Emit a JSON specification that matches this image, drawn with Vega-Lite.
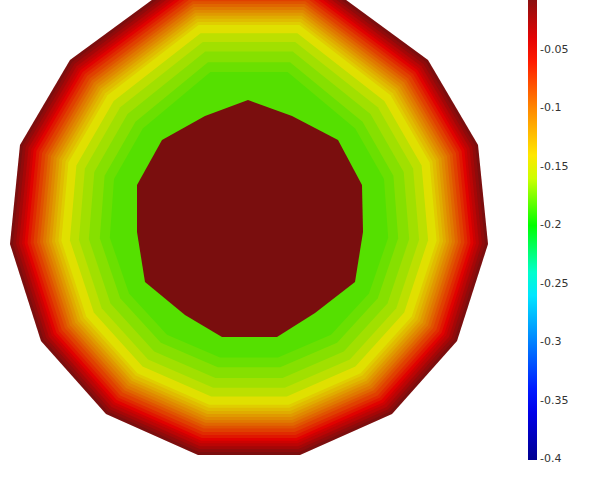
{
"$schema": "https://vega.github.io/schema/vega-lite/v6.json",
"padding": 0,
"width": 500,
"height": 481,
"background": "white",
"config": {"view": {"stroke": null}},
"datasets": {
"rings": [
{"r":0,"v":-0.008,"i":0,"x":488,"y":244},{"r":0,"v":-0.008,"i":1,"x":457,"y":341},{"r":0,"v":-0.008,"i":2,"x":392,"y":414},{"r":0,"v":-0.008,"i":3,"x":300,"y":455},{"r":0,"v":-0.008,"i":4,"x":198,"y":455},{"r":0,"v":-0.008,"i":5,"x":106,"y":414},{"r":0,"v":-0.008,"i":6,"x":41,"y":341},{"r":0,"v":-0.008,"i":7,"x":10,"y":244},{"r":0,"v":-0.008,"i":8,"x":20,"y":145},{"r":0,"v":-0.008,"i":9,"x":70,"y":60},{"r":0,"v":-0.008,"i":10,"x":186,"y":-25},{"r":0,"v":-0.008,"i":11,"x":312,"y":-25},{"r":0,"v":-0.008,"i":12,"x":428,"y":60},{"r":0,"v":-0.008,"i":13,"x":478,"y":145},
{"r":1,"v":-0.016,"i":0,"x":485,"y":243.8},{"r":1,"v":-0.016,"i":1,"x":454.4,"y":339.6},{"r":1,"v":-0.016,"i":2,"x":390.2,"y":411.6},{"r":1,"v":-0.016,"i":3,"x":299.3,"y":452.1},{"r":1,"v":-0.016,"i":4,"x":198.7,"y":452.1},{"r":1,"v":-0.016,"i":5,"x":107.8,"y":411.6},{"r":1,"v":-0.016,"i":6,"x":43.6,"y":339.6},{"r":1,"v":-0.016,"i":7,"x":13,"y":243.8},{"r":1,"v":-0.016,"i":8,"x":22.8,"y":146},{"r":1,"v":-0.016,"i":9,"x":72.2,"y":62.1},{"r":1,"v":-0.016,"i":10,"x":186.7,"y":-22.1},{"r":1,"v":-0.016,"i":11,"x":311.3,"y":-22.1},{"r":1,"v":-0.016,"i":12,"x":425.8,"y":62.1},{"r":1,"v":-0.016,"i":13,"x":475.2,"y":146},
{"r":2,"v":-0.025,"i":0,"x":482,"y":243.6},{"r":2,"v":-0.025,"i":1,"x":451.7,"y":338.1},{"r":2,"v":-0.025,"i":2,"x":388.3,"y":409.2},{"r":2,"v":-0.025,"i":3,"x":298.7,"y":449.1},{"r":2,"v":-0.025,"i":4,"x":199.3,"y":449.1},{"r":2,"v":-0.025,"i":5,"x":109.7,"y":409.2},{"r":2,"v":-0.025,"i":6,"x":46.3,"y":338.1},{"r":2,"v":-0.025,"i":7,"x":16,"y":243.6},{"r":2,"v":-0.025,"i":8,"x":25.6,"y":147},{"r":2,"v":-0.025,"i":9,"x":74.4,"y":64.1},{"r":2,"v":-0.025,"i":10,"x":187.5,"y":-19.2},{"r":2,"v":-0.025,"i":11,"x":310.5,"y":-19.2},{"r":2,"v":-0.025,"i":12,"x":423.6,"y":64.1},{"r":2,"v":-0.025,"i":13,"x":472.4,"y":147},
{"r":3,"v":-0.034,"i":0,"x":479,"y":243.4},{"r":3,"v":-0.034,"i":1,"x":449.1,"y":336.7},{"r":3,"v":-0.034,"i":2,"x":386.5,"y":406.9},{"r":3,"v":-0.034,"i":3,"x":298,"y":446.2},{"r":3,"v":-0.034,"i":4,"x":200,"y":446.2},{"r":3,"v":-0.034,"i":5,"x":111.5,"y":406.9},{"r":3,"v":-0.034,"i":6,"x":48.9,"y":336.7},{"r":3,"v":-0.034,"i":7,"x":19,"y":243.4},{"r":3,"v":-0.034,"i":8,"x":28.5,"y":148.1},{"r":3,"v":-0.034,"i":9,"x":76.6,"y":66.2},{"r":3,"v":-0.034,"i":10,"x":188.2,"y":-16.3},{"r":3,"v":-0.034,"i":11,"x":309.8,"y":-16.3},{"r":3,"v":-0.034,"i":12,"x":421.4,"y":66.2},{"r":3,"v":-0.034,"i":13,"x":469.5,"y":148.1},
{"r":4,"v":-0.042,"i":0,"x":476,"y":243.2},{"r":4,"v":-0.042,"i":1,"x":446.4,"y":335.3},{"r":4,"v":-0.042,"i":2,"x":384.7,"y":404.5},{"r":4,"v":-0.042,"i":3,"x":297.4,"y":443.3},{"r":4,"v":-0.042,"i":4,"x":200.6,"y":443.3},{"r":4,"v":-0.042,"i":5,"x":113.3,"y":404.5},{"r":4,"v":-0.042,"i":6,"x":51.6,"y":335.3},{"r":4,"v":-0.042,"i":7,"x":22,"y":243.2},{"r":4,"v":-0.042,"i":8,"x":31.3,"y":149.1},{"r":4,"v":-0.042,"i":9,"x":78.7,"y":68.2},{"r":4,"v":-0.042,"i":10,"x":188.9,"y":-13.4},{"r":4,"v":-0.042,"i":11,"x":309.1,"y":-13.4},{"r":4,"v":-0.042,"i":12,"x":419.3,"y":68.2},{"r":4,"v":-0.042,"i":13,"x":466.7,"y":149.1},
{"r":5,"v":-0.051,"i":0,"x":473.5,"y":243.1},{"r":5,"v":-0.051,"i":1,"x":444.2,"y":334.1},{"r":5,"v":-0.051,"i":2,"x":383.2,"y":402.5},{"r":5,"v":-0.051,"i":3,"x":296.8,"y":440.8},{"r":5,"v":-0.051,"i":4,"x":201.2,"y":440.8},{"r":5,"v":-0.051,"i":5,"x":114.8,"y":402.5},{"r":5,"v":-0.051,"i":6,"x":53.8,"y":334.1},{"r":5,"v":-0.051,"i":7,"x":24.5,"y":243.1},{"r":5,"v":-0.051,"i":8,"x":33.6,"y":149.9},{"r":5,"v":-0.051,"i":9,"x":80.6,"y":69.9},{"r":5,"v":-0.051,"i":10,"x":189.5,"y":-10.9},{"r":5,"v":-0.051,"i":11,"x":308.5,"y":-10.9},{"r":5,"v":-0.051,"i":12,"x":417.4,"y":69.9},{"r":5,"v":-0.051,"i":13,"x":464.4,"y":149.9},
{"r":6,"v":-0.06,"i":0,"x":470.5,"y":242.9},{"r":6,"v":-0.06,"i":1,"x":441.6,"y":332.7},{"r":6,"v":-0.06,"i":2,"x":381.3,"y":400.1},{"r":6,"v":-0.06,"i":3,"x":296.2,"y":437.9},{"r":6,"v":-0.06,"i":4,"x":201.8,"y":437.9},{"r":6,"v":-0.06,"i":5,"x":116.7,"y":400.1},{"r":6,"v":-0.06,"i":6,"x":56.4,"y":332.7},{"r":6,"v":-0.06,"i":7,"x":27.5,"y":242.9},{"r":6,"v":-0.06,"i":8,"x":36.4,"y":151},{"r":6,"v":-0.06,"i":9,"x":82.7,"y":72},{"r":6,"v":-0.06,"i":10,"x":190.3,"y":-8},{"r":6,"v":-0.06,"i":11,"x":307.7,"y":-8},{"r":6,"v":-0.06,"i":12,"x":415.3,"y":72},{"r":6,"v":-0.06,"i":13,"x":461.6,"y":151},
{"r":7,"v":-0.068,"i":0,"x":467.5,"y":242.7},{"r":7,"v":-0.068,"i":1,"x":439,"y":331.2},{"r":7,"v":-0.068,"i":2,"x":379.5,"y":397.8},{"r":7,"v":-0.068,"i":3,"x":295.5,"y":435},{"r":7,"v":-0.068,"i":4,"x":202.5,"y":435},{"r":7,"v":-0.068,"i":5,"x":118.5,"y":397.8},{"r":7,"v":-0.068,"i":6,"x":59,"y":331.2},{"r":7,"v":-0.068,"i":7,"x":30.5,"y":242.7},{"r":7,"v":-0.068,"i":8,"x":39.3,"y":152},{"r":7,"v":-0.068,"i":9,"x":84.9,"y":74},{"r":7,"v":-0.068,"i":10,"x":191,"y":-5.1},{"r":7,"v":-0.068,"i":11,"x":307,"y":-5.1},{"r":7,"v":-0.068,"i":12,"x":413.1,"y":74},{"r":7,"v":-0.068,"i":13,"x":458.7,"y":152},
{"r":8,"v":-0.077,"i":0,"x":464.5,"y":242.5},{"r":8,"v":-0.077,"i":1,"x":436.3,"y":329.8},{"r":8,"v":-0.077,"i":2,"x":377.7,"y":395.4},{"r":8,"v":-0.077,"i":3,"x":294.8,"y":432.1},{"r":8,"v":-0.077,"i":4,"x":203.2,"y":432.1},{"r":8,"v":-0.077,"i":5,"x":120.3,"y":395.4},{"r":8,"v":-0.077,"i":6,"x":61.7,"y":329.8},{"r":8,"v":-0.077,"i":7,"x":33.5,"y":242.5},{"r":8,"v":-0.077,"i":8,"x":42.1,"y":153},{"r":8,"v":-0.077,"i":9,"x":87.1,"y":76.1},{"r":8,"v":-0.077,"i":10,"x":191.7,"y":-2.2},{"r":8,"v":-0.077,"i":11,"x":306.3,"y":-2.2},{"r":8,"v":-0.077,"i":12,"x":410.9,"y":76.1},{"r":8,"v":-0.077,"i":13,"x":455.9,"y":153},
{"r":9,"v":-0.085,"i":0,"x":461,"y":242.3},{"r":9,"v":-0.085,"i":1,"x":433.2,"y":328.1},{"r":9,"v":-0.085,"i":2,"x":375.5,"y":392.6},{"r":9,"v":-0.085,"i":3,"x":294.1,"y":428.6},{"r":9,"v":-0.085,"i":4,"x":203.9,"y":428.6},{"r":9,"v":-0.085,"i":5,"x":122.5,"y":392.6},{"r":9,"v":-0.085,"i":6,"x":64.8,"y":328.1},{"r":9,"v":-0.085,"i":7,"x":37,"y":242.3},{"r":9,"v":-0.085,"i":8,"x":45.4,"y":154.2},{"r":9,"v":-0.085,"i":9,"x":89.7,"y":78.5},{"r":9,"v":-0.085,"i":10,"x":192.6,"y":1.2},{"r":9,"v":-0.085,"i":11,"x":305.4,"y":1.2},{"r":9,"v":-0.085,"i":12,"x":408.3,"y":78.5},{"r":9,"v":-0.085,"i":13,"x":452.6,"y":154.2},
{"r":10,"v":-0.093,"i":0,"x":458,"y":242.1},{"r":10,"v":-0.093,"i":1,"x":430.6,"y":326.7},{"r":10,"v":-0.093,"i":2,"x":373.7,"y":390.2},{"r":10,"v":-0.093,"i":3,"x":293.4,"y":425.7},{"r":10,"v":-0.093,"i":4,"x":204.6,"y":425.7},{"r":10,"v":-0.093,"i":5,"x":124.3,"y":390.2},{"r":10,"v":-0.093,"i":6,"x":67.4,"y":326.7},{"r":10,"v":-0.093,"i":7,"x":40,"y":242.1},{"r":10,"v":-0.093,"i":8,"x":48.2,"y":155.2},{"r":10,"v":-0.093,"i":9,"x":91.8,"y":80.6},{"r":10,"v":-0.093,"i":10,"x":193.3,"y":4.1},{"r":10,"v":-0.093,"i":11,"x":304.7,"y":4.1},{"r":10,"v":-0.093,"i":12,"x":406.2,"y":80.6},{"r":10,"v":-0.093,"i":13,"x":449.8,"y":155.2},
{"r":11,"v":-0.101,"i":0,"x":455,"y":241.9},{"r":11,"v":-0.101,"i":1,"x":428,"y":325.3},{"r":11,"v":-0.101,"i":2,"x":371.9,"y":387.9},{"r":11,"v":-0.101,"i":3,"x":292.7,"y":422.8},{"r":11,"v":-0.101,"i":4,"x":205.3,"y":422.8},{"r":11,"v":-0.101,"i":5,"x":126.1,"y":387.9},{"r":11,"v":-0.101,"i":6,"x":70,"y":325.3},{"r":11,"v":-0.101,"i":7,"x":43,"y":241.9},{"r":11,"v":-0.101,"i":8,"x":51,"y":156.3},{"r":11,"v":-0.101,"i":9,"x":94,"y":82.6},{"r":11,"v":-0.101,"i":10,"x":194,"y":7},{"r":11,"v":-0.101,"i":11,"x":304,"y":7},{"r":11,"v":-0.101,"i":12,"x":404,"y":82.6},{"r":11,"v":-0.101,"i":13,"x":447,"y":156.3},
{"r":12,"v":-0.109,"i":0,"x":452,"y":241.7},{"r":12,"v":-0.109,"i":1,"x":425.3,"y":323.9},{"r":12,"v":-0.109,"i":2,"x":370,"y":385.5},{"r":12,"v":-0.109,"i":3,"x":292.1,"y":419.9},{"r":12,"v":-0.109,"i":4,"x":205.9,"y":419.9},{"r":12,"v":-0.109,"i":5,"x":128,"y":385.5},{"r":12,"v":-0.109,"i":6,"x":72.7,"y":323.9},{"r":12,"v":-0.109,"i":7,"x":46,"y":241.7},{"r":12,"v":-0.109,"i":8,"x":53.8,"y":157.3},{"r":12,"v":-0.109,"i":9,"x":96.2,"y":84.7},{"r":12,"v":-0.109,"i":10,"x":194.8,"y":9.9},{"r":12,"v":-0.109,"i":11,"x":303.2,"y":9.9},{"r":12,"v":-0.109,"i":12,"x":401.8,"y":84.7},{"r":12,"v":-0.109,"i":13,"x":444.2,"y":157.3},
{"r":13,"v":-0.117,"i":0,"x":449,"y":241.5},{"r":13,"v":-0.117,"i":1,"x":422.7,"y":322.4},{"r":13,"v":-0.117,"i":2,"x":368.2,"y":383.1},{"r":13,"v":-0.117,"i":3,"x":291.4,"y":416.9},{"r":13,"v":-0.117,"i":4,"x":206.6,"y":416.9},{"r":13,"v":-0.117,"i":5,"x":129.8,"y":383.1},{"r":13,"v":-0.117,"i":6,"x":75.3,"y":322.4},{"r":13,"v":-0.117,"i":7,"x":49,"y":241.5},{"r":13,"v":-0.117,"i":8,"x":56.7,"y":158.3},{"r":13,"v":-0.117,"i":9,"x":98.4,"y":86.7},{"r":13,"v":-0.117,"i":10,"x":195.5,"y":12.8},{"r":13,"v":-0.117,"i":11,"x":302.5,"y":12.8},{"r":13,"v":-0.117,"i":12,"x":399.6,"y":86.7},{"r":13,"v":-0.117,"i":13,"x":441.3,"y":158.3},
{"r":14,"v":-0.125,"i":0,"x":446,"y":241.4},{"r":14,"v":-0.125,"i":1,"x":420,"y":321},{"r":14,"v":-0.125,"i":2,"x":366.4,"y":380.7},{"r":14,"v":-0.125,"i":3,"x":290.8,"y":414},{"r":14,"v":-0.125,"i":4,"x":207.2,"y":414},{"r":14,"v":-0.125,"i":5,"x":131.6,"y":380.7},{"r":14,"v":-0.125,"i":6,"x":78,"y":321},{"r":14,"v":-0.125,"i":7,"x":52,"y":241.4},{"r":14,"v":-0.125,"i":8,"x":59.5,"y":159.3},{"r":14,"v":-0.125,"i":9,"x":100.6,"y":88.8},{"r":14,"v":-0.125,"i":10,"x":196.2,"y":15.7},{"r":14,"v":-0.125,"i":11,"x":301.8,"y":15.7},{"r":14,"v":-0.125,"i":12,"x":397.4,"y":88.8},{"r":14,"v":-0.125,"i":13,"x":438.5,"y":159.3},
{"r":15,"v":-0.133,"i":0,"x":443,"y":241.2},{"r":15,"v":-0.133,"i":1,"x":417.4,"y":319.6},{"r":15,"v":-0.133,"i":2,"x":364.6,"y":378.4},{"r":15,"v":-0.133,"i":3,"x":290.1,"y":411.1},{"r":15,"v":-0.133,"i":4,"x":207.9,"y":411.1},{"r":15,"v":-0.133,"i":5,"x":133.4,"y":378.4},{"r":15,"v":-0.133,"i":6,"x":80.6,"y":319.6},{"r":15,"v":-0.133,"i":7,"x":55,"y":241.2},{"r":15,"v":-0.133,"i":8,"x":62.3,"y":160.3},{"r":15,"v":-0.133,"i":9,"x":102.8,"y":90.8},{"r":15,"v":-0.133,"i":10,"x":197,"y":18.7},{"r":15,"v":-0.133,"i":11,"x":301,"y":18.7},{"r":15,"v":-0.133,"i":12,"x":395.2,"y":90.8},{"r":15,"v":-0.133,"i":13,"x":435.7,"y":160.3},
{"r":16,"v":-0.141,"i":0,"x":439.6,"y":240.9},{"r":16,"v":-0.141,"i":1,"x":414.3,"y":317.9},{"r":16,"v":-0.141,"i":2,"x":362.4,"y":375.6},{"r":16,"v":-0.141,"i":3,"x":289.3,"y":407.7},{"r":16,"v":-0.141,"i":4,"x":208.7,"y":407.7},{"r":16,"v":-0.141,"i":5,"x":135.6,"y":375.6},{"r":16,"v":-0.141,"i":6,"x":83.7,"y":317.9},{"r":16,"v":-0.141,"i":7,"x":58.4,"y":240.9},{"r":16,"v":-0.141,"i":8,"x":65.6,"y":161.5},{"r":16,"v":-0.141,"i":9,"x":105.3,"y":93.2},{"r":16,"v":-0.141,"i":10,"x":197.8,"y":22},{"r":16,"v":-0.141,"i":11,"x":300.2,"y":22},{"r":16,"v":-0.141,"i":12,"x":392.7,"y":93.2},{"r":16,"v":-0.141,"i":13,"x":432.4,"y":161.5},
{"r":17,"v":-0.15,"i":0,"x":436.6,"y":240.8},{"r":17,"v":-0.15,"i":1,"x":411.7,"y":316.5},{"r":17,"v":-0.15,"i":2,"x":360.6,"y":373.2},{"r":17,"v":-0.15,"i":3,"x":288.7,"y":404.7},{"r":17,"v":-0.15,"i":4,"x":209.3,"y":404.7},{"r":17,"v":-0.15,"i":5,"x":137.4,"y":373.2},{"r":17,"v":-0.15,"i":6,"x":86.3,"y":316.5},{"r":17,"v":-0.15,"i":7,"x":61.4,"y":240.8},{"r":17,"v":-0.15,"i":8,"x":68.4,"y":162.6},{"r":17,"v":-0.15,"i":9,"x":107.5,"y":95.3},{"r":17,"v":-0.15,"i":10,"x":198.6,"y":25},{"r":17,"v":-0.15,"i":11,"x":299.4,"y":25},{"r":17,"v":-0.15,"i":12,"x":390.5,"y":95.3},{"r":17,"v":-0.15,"i":13,"x":429.6,"y":162.6},
{"r":18,"v":-0.158,"i":0,"x":428.1,"y":240.2},{"r":18,"v":-0.158,"i":1,"x":404.2,"y":312.4},{"r":18,"v":-0.158,"i":2,"x":355.4,"y":366.5},{"r":18,"v":-0.158,"i":3,"x":286.8,"y":396.4},{"r":18,"v":-0.158,"i":4,"x":211.2,"y":396.4},{"r":18,"v":-0.158,"i":5,"x":142.6,"y":366.5},{"r":18,"v":-0.158,"i":6,"x":93.8,"y":312.4},{"r":18,"v":-0.158,"i":7,"x":69.9,"y":240.2},{"r":18,"v":-0.158,"i":8,"x":76.4,"y":165.5},{"r":18,"v":-0.158,"i":9,"x":113.7,"y":101.1},{"r":18,"v":-0.158,"i":10,"x":200.6,"y":33.2},{"r":18,"v":-0.158,"i":11,"x":297.4,"y":33.2},{"r":18,"v":-0.158,"i":12,"x":384.3,"y":101.1},{"r":18,"v":-0.158,"i":13,"x":421.6,"y":165.5},
{"r":19,"v":-0.164,"i":0,"x":419.1,"y":239.7},{"r":19,"v":-0.164,"i":1,"x":396.3,"y":308.2},{"r":19,"v":-0.164,"i":2,"x":349.9,"y":359.4},{"r":19,"v":-0.164,"i":3,"x":284.8,"y":387.7},{"r":19,"v":-0.164,"i":4,"x":213.2,"y":387.7},{"r":19,"v":-0.164,"i":5,"x":148.1,"y":359.4},{"r":19,"v":-0.164,"i":6,"x":101.7,"y":308.2},{"r":19,"v":-0.164,"i":7,"x":78.9,"y":239.7},{"r":19,"v":-0.164,"i":8,"x":84.9,"y":168.5},{"r":19,"v":-0.164,"i":9,"x":120.2,"y":107.3},{"r":19,"v":-0.164,"i":10,"x":202.8,"y":41.9},{"r":19,"v":-0.164,"i":11,"x":295.2,"y":41.9},{"r":19,"v":-0.164,"i":12,"x":377.8,"y":107.3},{"r":19,"v":-0.164,"i":13,"x":413.1,"y":168.5},
{"r":20,"v":-0.17,"i":0,"x":409.2,"y":239},{"r":20,"v":-0.17,"i":1,"x":387.5,"y":303.4},{"r":20,"v":-0.17,"i":2,"x":343.8,"y":351.4},{"r":20,"v":-0.17,"i":3,"x":282.6,"y":377.9},{"r":20,"v":-0.17,"i":4,"x":215.4,"y":377.9},{"r":20,"v":-0.17,"i":5,"x":154.2,"y":351.4},{"r":20,"v":-0.17,"i":6,"x":110.5,"y":303.4},{"r":20,"v":-0.17,"i":7,"x":88.8,"y":239},{"r":20,"v":-0.17,"i":8,"x":94.3,"y":171.9},{"r":20,"v":-0.17,"i":9,"x":127.5,"y":114.1},{"r":20,"v":-0.17,"i":10,"x":205.3,"y":51.6},{"r":20,"v":-0.17,"i":11,"x":292.7,"y":51.6},{"r":20,"v":-0.17,"i":12,"x":370.5,"y":114.1},{"r":20,"v":-0.17,"i":13,"x":403.7,"y":171.9},
{"r":21,"v":-0.176,"i":0,"x":398.2,"y":238.3},{"r":21,"v":-0.176,"i":1,"x":377.8,"y":298.2},{"r":21,"v":-0.176,"i":2,"x":337.1,"y":342.7},{"r":21,"v":-0.176,"i":3,"x":280.2,"y":367.2},{"r":21,"v":-0.176,"i":4,"x":217.8,"y":367.2},{"r":21,"v":-0.176,"i":5,"x":160.9,"y":342.7},{"r":21,"v":-0.176,"i":6,"x":120.2,"y":298.2},{"r":21,"v":-0.176,"i":7,"x":99.8,"y":238.3},{"r":21,"v":-0.176,"i":8,"x":104.6,"y":175.7},{"r":21,"v":-0.176,"i":9,"x":135.5,"y":121.7},{"r":21,"v":-0.176,"i":10,"x":208,"y":62.3},{"r":21,"v":-0.176,"i":11,"x":290,"y":62.3},{"r":21,"v":-0.176,"i":12,"x":362.5,"y":121.7},{"r":21,"v":-0.176,"i":13,"x":393.4,"y":175.7},
{"r":22,"v":-0.181,"i":0,"x":388.2,"y":237.7},{"r":22,"v":-0.181,"i":1,"x":369,"y":293.4},{"r":22,"v":-0.181,"i":2,"x":331,"y":334.8},{"r":22,"v":-0.181,"i":3,"x":278,"y":357.4},{"r":22,"v":-0.181,"i":4,"x":220,"y":357.4},{"r":22,"v":-0.181,"i":5,"x":167,"y":334.8},{"r":22,"v":-0.181,"i":6,"x":129,"y":293.4},{"r":22,"v":-0.181,"i":7,"x":109.8,"y":237.7},{"r":22,"v":-0.181,"i":8,"x":114,"y":179.1},{"r":22,"v":-0.181,"i":9,"x":142.8,"y":128.5},{"r":22,"v":-0.181,"i":10,"x":210.4,"y":72},{"r":22,"v":-0.181,"i":11,"x":287.6,"y":72},{"r":22,"v":-0.181,"i":12,"x":355.2,"y":128.5},{"r":22,"v":-0.181,"i":13,"x":384,"y":179.1}
],
"core": [
{"v":-0.0073,"i":0,"x":248,"y":100},{"v":-0.0073,"i":1,"x":292,"y":116},{"v":-0.0073,"i":2,"x":338,"y":140},{"v":-0.0073,"i":3,"x":362,"y":185},{"v":-0.0073,"i":4,"x":363,"y":232},{"v":-0.0073,"i":5,"x":355,"y":282},{"v":-0.0073,"i":6,"x":315,"y":313},{"v":-0.0073,"i":7,"x":277,"y":337},{"v":-0.0073,"i":8,"x":222,"y":337},{"v":-0.0073,"i":9,"x":185,"y":315},{"v":-0.0073,"i":10,"x":145,"y":282},{"v":-0.0073,"i":11,"x":137,"y":232},{"v":-0.0073,"i":12,"x":137,"y":185},{"v":-0.0073,"i":13,"x":162,"y":140},{"v":-0.0073,"i":14,"x":205,"y":116}
]
},
"encoding": {
"x": {"field": "x", "type": "quantitative", "scale": {"domain": [0, 500], "nice": false, "zero": false}, "axis": null},
"y": {"field": "y", "type": "quantitative", "scale": {"domain": [0, 481], "reverse": true, "nice": false, "zero": false}, "axis": null},
"order": {"field": "i", "type": "quantitative"}
},
"layer": [
{
"data": {"name": "rings"},
"mark": {"type": "line", "filled": true, "interpolate": "linear-closed", "strokeWidth": 0, "clip": true},
"encoding": {
"detail": {"field": "r", "type": "quantitative"},
"color": {
"field": "v", "type": "quantitative",
"scale": {
"domain": [-0.4005, -0.35, -0.3, -0.25, -0.2, -0.15, -0.1, -0.05, -0.0073],
"range": ["#000090", "#0000ff", "#0080ff", "#00ffff", "#00ff00", "#ffff00", "#ff8800", "#ff0000", "#8b1010"],
"interpolate": "rgb"
},
"legend": {
"title": null,
"orient": "right",
"direction": "vertical",
"values": [-0.4, -0.35, -0.3, -0.25, -0.2, -0.15, -0.1, -0.05],
"labelExpr": "'-' + format(-datum.value, '~g')",
"gradientLength": 460,
"gradientThickness": 9,
"gradientStrokeWidth": 0,
"labelFont": "DejaVu Sans",
"labelFontSize": 11,
"labelColor": "#333333",
"labelOffset": 3,
"labelOverlap": false,
"offset": 28,
"padding": 0
}
}
}
},
{
"data": {"name": "core"},
"mark": {"type": "line", "filled": true, "interpolate": "linear-closed", "strokeWidth": 0, "clip": true},
"encoding": {
"color": {"field": "v", "type": "quantitative"}
}
},
{
"data": {"name": "rings"},
"transform": [{"filter": "datum.r == 0"}],
"mark": {"type": "line", "filled": true, "interpolate": "linear-closed", "strokeWidth": 0, "clip": true, "opacity": 0.12},
"encoding": {
"color": {"value": "#000000"}
}
}
]
}
